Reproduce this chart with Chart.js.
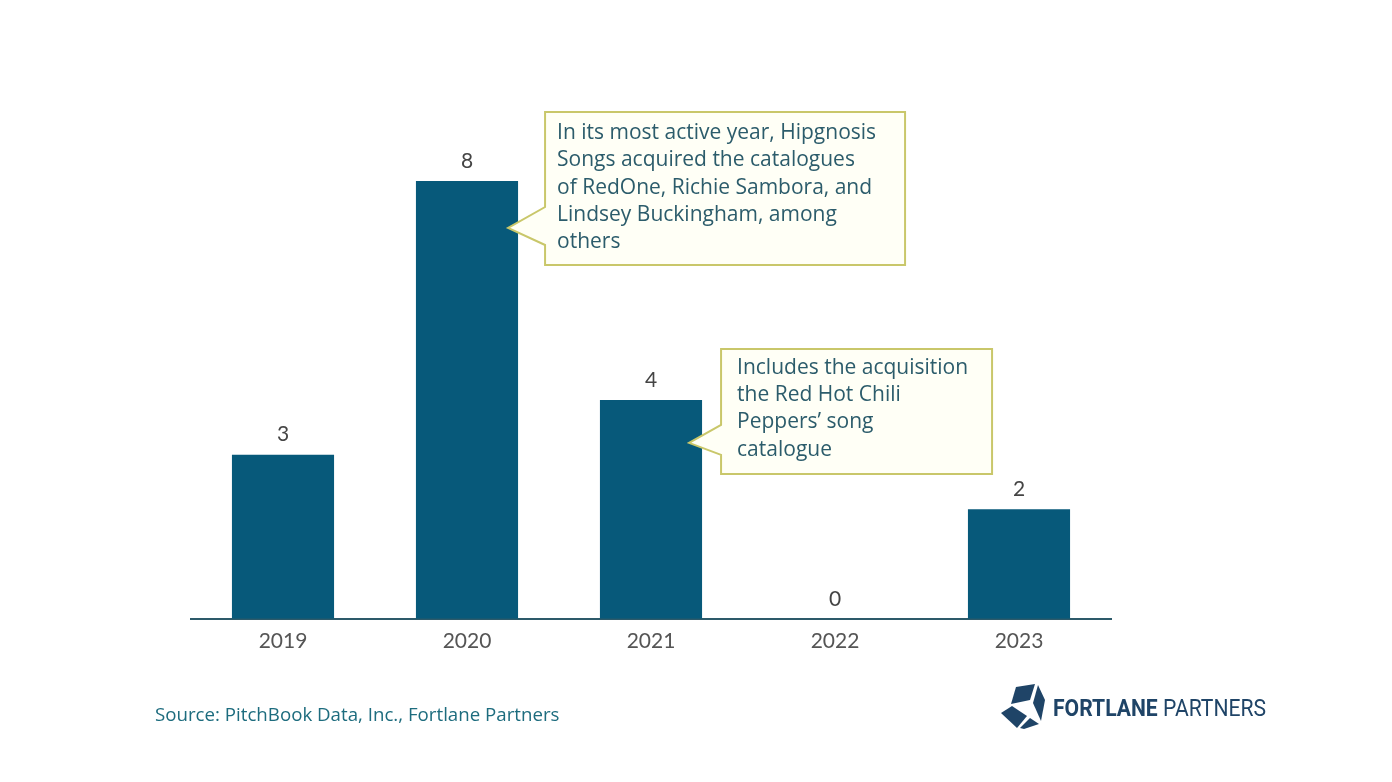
<!DOCTYPE html>
<html>
<head>
<meta charset="utf-8">
<script src="https://cdn.jsdelivr.net/npm/chart.js@4"></script>
<style>
  body { margin: 0; background: #ffffff; }
  #wrap { position: relative; width: 1392px; height: 782px; }
  #myChart { position: absolute; left: 0; top: 0; }
  .source { position: absolute; left: 155px; top: 701px; font-family: "Open Sans", sans-serif; font-size: 18.7px; color: #1d6c7e; }
  .logo { position: absolute; left: 1000px; top: 683px; }
  .logoText { position: absolute; left: 1053px; top: 694px; font-family: Roboto, sans-serif; font-size: 24px; color: #1f4467; white-space: nowrap; transform: scaleX(0.88); transform-origin: left center; }
  .logoText b { font-weight: 700; }
</style>
</head>
<body>
<div id="wrap">
  <canvas id="myChart" width="1392" height="782"></canvas>
  <div class="source">Source: PitchBook Data, Inc., Fortlane Partners</div>
  <svg class="logo" width="46" height="46" viewBox="0 0 46 46">
    <polygon points="16,4 35,1 30,17 11,21" fill="#1f4467"/>
    <polygon points="38,2 45,17 41,38 33,20" fill="#1f4467"/>
    <polygon points="1,30 12,23 27,33 17,45" fill="#1f4467"/>
    <polygon points="20,45 30,35 39,41 24,46" fill="#1f4467"/>
  </svg>
  <div class="logoText"><b>FORTLANE</b> PARTNERS</div>
</div>
<script>
var anos = ['2019', '2020', '2021', '2022', '2023'];
var negocios = [3, 8, 4, 0, 2];

var corBarra = '#07597a';

// notas ao lado das barras
var notas = [
    { idx: 1, linhas: ['In its most active year, Hipgnosis', 'Songs acquired the catalogues', 'of RedOne, Richie Sambora, and', 'Lindsey Buckingham, among', 'others'] },
    { idx: 2, linhas: ['Includes the acquisition', 'the Red Hot Chili', 'Peppers\u2019 song', 'catalogue'] }
];

// layout das caixas relativo a barra (dx da borda direita, dy do topo)
var caixas = {
    1: { dx: 27, dy: -69, w: 360, h: 153, tipDx: -10, tipDy: 47, b1: 26, b2: 64, tx: 12, ty: 21 },
    2: { dx: 19, dy: -51, w: 271, h: 125, tipDx: -13, tipDy: 43, b1: 25, b2: 55, tx: 16, ty: 19 }
};

var pluginRotulos = {
    id: 'rotulos',
    afterDatasetsDraw: function(chart) {
        var ctx = chart.ctx;
        var meta = chart.getDatasetMeta(0);
        ctx.save();
        ctx.font = '21px Lato, sans-serif';
        ctx.fillStyle = '#444';
        ctx.textAlign = 'center';
        ctx.textBaseline = 'middle';
        meta.data.forEach(function(bar, i) {
            ctx.fillText(String(negocios[i]), bar.x, bar.y - 20);
        });

        notas.forEach(function(n) {
            var bar = meta.data[n.idx];
            var c = caixas[n.idx];
            var right = bar.x + bar.width / 2;
            var x0 = right + c.dx;
            var y0 = bar.y + c.dy;
            var tipX = right + c.tipDx;
            var tipY = bar.y + c.tipDy;
            var by1 = bar.y + c.b1;
            var by2 = bar.y + c.b2;

            ctx.beginPath();
            ctx.moveTo(x0, y0);
            ctx.lineTo(x0 + c.w, y0);
            ctx.lineTo(x0 + c.w, y0 + c.h);
            ctx.lineTo(x0, y0 + c.h);
            ctx.lineTo(x0, by2);
            ctx.lineTo(tipX, tipY);
            ctx.lineTo(x0, by1);
            ctx.closePath();
            ctx.fillStyle = '#fffff6';
            ctx.fill();
            ctx.lineWidth = 2;
            ctx.strokeStyle = '#c9c76a';
            ctx.stroke();

            ctx.fillStyle = '#2c5c6b';
            ctx.textAlign = 'left';
            ctx.font = '21px "Open Sans", sans-serif';
            n.linhas.forEach(function(l, k) {
                ctx.fillText(l, x0 + c.tx, y0 + c.ty + k * 27.3);
            });
        });
        ctx.restore();
    }
};

function montarGrafico() {
    var ctx = document.getElementById('myChart').getContext('2d');
    new Chart(ctx, {
        type: 'bar',
        data: {
            labels: anos,
            datasets: [{
                label: 'Deals',
                data: negocios,
                backgroundColor: corBarra,
                borderWidth: 0,
                categoryPercentage: 1,
                barPercentage: 0.555
            }]
        },
        options: {
            responsive: false,
            animation: false,
            layout: { padding: { left: 191, right: 281, top: 181, bottom: 118 } },
            plugins: { legend: { display: false }, tooltip: { enabled: false } },
            scales: {
                y: { display: false, min: 0, max: 8 },
                x: {
                    grid: { display: false, drawTicks: false },
                    border: { display: true, color: '#2d5a6a', width: 2 },
                    ticks: { color: '#555', font: { family: 'Lato', size: 21 }, padding: 10 }
                }
            }
        },
        plugins: [pluginRotulos]
    });
}

montarGrafico();
</script>
</body>
</html>
